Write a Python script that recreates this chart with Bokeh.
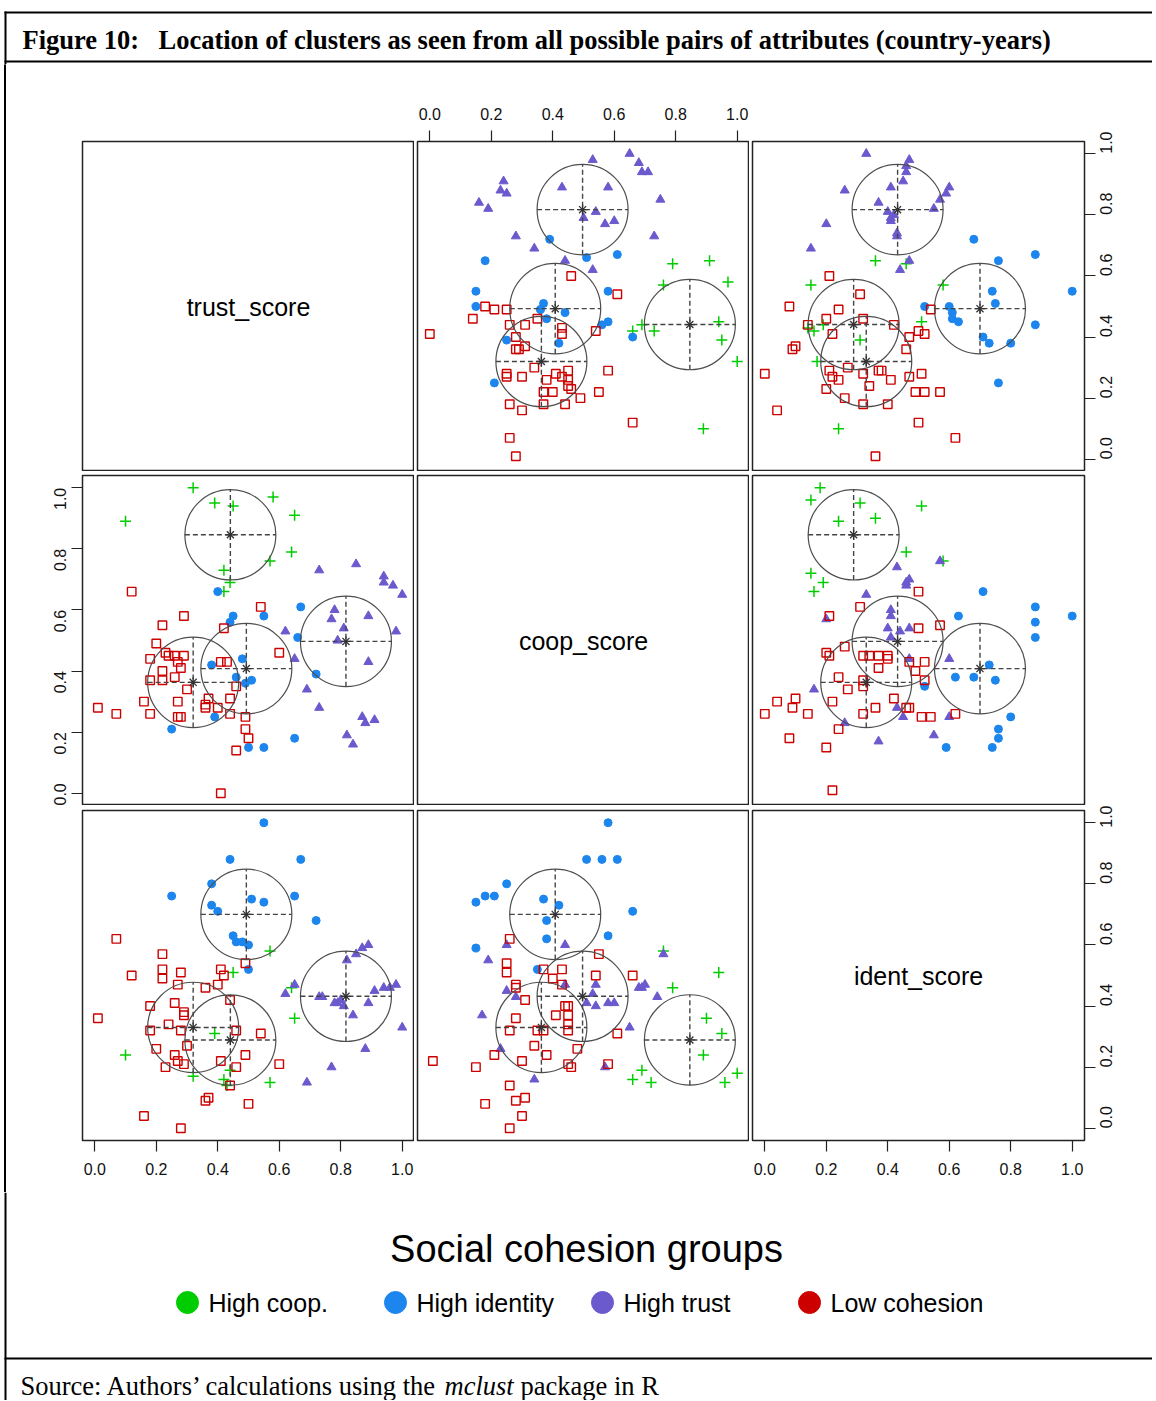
import math
from bokeh.plotting import figure
from bokeh.layouts import row, column
from bokeh.models import Range1d, FixedTicker, NumeralTickFormatter
from bokeh.core.properties import value
from bokeh.embed import file_html
from bokeh.resources import INLINE

# ------------------------------------------------------------------ data
var_labels = ["trust_score", "coop_score", "ident_score"]
var_keys = ["trust", "coop", "ident"]
groups = ["High coop.", "High identity", "High trust", "Low cohesion"]
tick_values = [0.0, 0.2, 0.4, 0.6, 0.8, 1.0]

# cluster means per group (same order as groups)
mean_trust = [0.441, 0.493, 0.817, 0.320]
mean_coop = [0.846, 0.408, 0.497, 0.363]
mean_ident = [0.289, 0.700, 0.432, 0.330]
cluster_sd = 0.148

# ---- coop_score (x) vs trust_score (y)
ct_coop_hc = [0.79, 0.91, 0.97, 0.76, 0.94, 0.69, 0.66, 0.73, 0.95, 1.00, 0.89]
ct_trust_hc = [0.64, 0.65, 0.58, 0.57, 0.45, 0.44, 0.42, 0.42, 0.39, 0.32, 0.10]
ct_coop_hi = [0.39, 0.51, 0.61, 0.18, 0.15, 0.15, 0.58, 0.37, 0.36, 0.44, 0.38, 0.58, 0.56, 0.66, 0.25, 0.42, 0.21]
ct_trust_hi = [0.72, 0.66, 0.67, 0.65, 0.55, 0.50, 0.55, 0.51, 0.49, 0.48, 0.46, 0.45, 0.44, 0.40, 0.39, 0.38, 0.25]
ct_coop_ht = [0.53, 0.65, 0.68, 0.69, 0.71, 0.24, 0.23, 0.25, 0.16, 0.19, 0.43, 0.58, 0.75, 0.54, 0.50, 0.57, 0.60, 0.28, 0.73, 0.34, 0.44, 0.53]
ct_trust_ht = [0.98, 1.00, 0.97, 0.94, 0.94, 0.91, 0.88, 0.87, 0.84, 0.82, 0.89, 0.89, 0.85, 0.81, 0.79, 0.77, 0.78, 0.73, 0.73, 0.69, 0.65, 0.62]
ct_coop_lc = [0.00, 0.14, 0.18, 0.21, 0.25, 0.46, 0.61, 0.26, 0.31, 0.35, 0.43, 0.43, 0.54, 0.28, 0.28, 0.29, 0.31, 0.25, 0.25, 0.30,
              0.34, 0.41, 0.45, 0.43, 0.45, 0.45, 0.46, 0.38, 0.40, 0.37, 0.49, 0.55, 0.58, 0.26, 0.30, 0.37, 0.44, 0.66, 0.26, 0.28]
ct_trust_lc = [0.41, 0.46, 0.50, 0.49, 0.49, 0.60, 0.54, 0.44, 0.44, 0.46, 0.43, 0.41, 0.42, 0.40, 0.36, 0.36, 0.37, 0.28, 0.27, 0.27,
               0.30, 0.28, 0.29, 0.27, 0.26, 0.24, 0.23, 0.26, 0.22, 0.22, 0.20, 0.22, 0.29, 0.18, 0.16, 0.18, 0.18, 0.12, 0.07, 0.01]

# ---- ident_score (x) vs trust_score (y)
it_ident_hc = [0.36, 0.46, 0.15, 0.58, 0.51, 0.19, 0.14, 0.16, 0.31, 0.17, 0.24]
it_trust_hc = [0.65, 0.64, 0.57, 0.57, 0.45, 0.44, 0.43, 0.42, 0.39, 0.32, 0.10]
it_ident_hi = [0.68, 0.88, 0.76, 1.00, 0.74, 0.75, 0.60, 0.52, 0.61, 0.61, 0.63, 0.88, 0.71, 0.73, 0.80, 0.76]
it_trust_hi = [0.72, 0.67, 0.65, 0.55, 0.55, 0.51, 0.50, 0.50, 0.48, 0.46, 0.45, 0.44, 0.40, 0.38, 0.38, 0.25]
it_ident_ht = [0.33, 0.47, 0.46, 0.46, 0.45, 0.41, 0.60, 0.59, 0.26, 0.37, 0.40, 0.41, 0.41, 0.55, 0.43, 0.20, 0.15, 0.47, 0.44, 0.57, 0.42, 0.43]
it_trust_ht = [1.00, 0.98, 0.96, 0.94, 0.91, 0.89, 0.89, 0.87, 0.88, 0.84, 0.81, 0.79, 0.78, 0.82, 0.73, 0.77, 0.69, 0.65, 0.62, 0.85, 0.80, 0.74]
it_ident_lc = [0.21, 0.08, 0.31, 0.24, 0.20, 0.32, 0.42, 0.14, 0.22, 0.47, 0.50, 0.52, 0.46, 0.10, 0.09, 0.27, 0.21, 0.22, 0.24, 0.32,
               0.37, 0.38, 0.41, 0.34, 0.20, 0.47, 0.51, 0.00, 0.26, 0.32, 0.40, 0.49, 0.52, 0.57, 0.04, 0.50, 0.62, 0.36, 0.54]
it_trust_lc = [0.60, 0.50, 0.54, 0.49, 0.46, 0.46, 0.44, 0.44, 0.41, 0.40, 0.42, 0.41, 0.36, 0.37, 0.36, 0.30, 0.29, 0.27, 0.26, 0.28,
               0.29, 0.29, 0.26, 0.24, 0.23, 0.27, 0.28, 0.28, 0.20, 0.18, 0.18, 0.22, 0.22, 0.22, 0.16, 0.12, 0.07, 0.01, 0.49]

# ---- ident_score (x) vs coop_score (y)
ic_ident_hc = [0.18, 0.15, 0.31, 0.51, 0.24, 0.36, 0.46, 0.58, 0.15, 0.19, 0.16]
ic_coop_hc = [1.00, 0.96, 0.95, 0.94, 0.89, 0.90, 0.79, 0.76, 0.72, 0.69, 0.66]
ic_ident_hi = [0.71, 0.88, 0.88, 1.00, 0.88, 0.63, 0.73, 0.62, 0.68, 0.75, 0.52, 0.80, 0.76, 0.76, 0.74, 0.59]
ic_coop_hi = [0.66, 0.61, 0.56, 0.58, 0.51, 0.58, 0.42, 0.38, 0.38, 0.37, 0.35, 0.25, 0.21, 0.18, 0.15, 0.15]
ic_ident_ht = [0.43, 0.46, 0.47, 0.46, 0.33, 0.57, 0.41, 0.41, 0.40, 0.44, 0.47, 0.41, 0.20, 0.47, 0.60, 0.16, 0.43, 0.45, 0.60, 0.26, 0.55, 0.37]
ic_coop_ht = [0.74, 0.69, 0.70, 0.68, 0.65, 0.76, 0.60, 0.58, 0.54, 0.53, 0.54, 0.51, 0.57, 0.44, 0.44, 0.34, 0.28, 0.25, 0.25, 0.23, 0.19, 0.17]
ic_ident_lc = [0.50, 0.31, 0.21, 0.57, 0.50, 0.20, 0.21, 0.26, 0.32, 0.34, 0.37, 0.40, 0.40, 0.47, 0.52, 0.37, 0.49, 0.24, 0.32, 0.32,
               0.27, 0.52, 0.10, 0.04, 0.09, 0.22, 0.36, 0.42, 0.46, 0.47, 0.32, 0.14, 0.00, 0.51, 0.54, 0.62, 0.24, 0.08, 0.20, 0.22]
ic_coop_lc = [0.66, 0.61, 0.58, 0.55, 0.54, 0.46, 0.45, 0.48, 0.45, 0.45, 0.45, 0.45, 0.44, 0.43, 0.43, 0.41, 0.40, 0.38, 0.37, 0.35,
              0.34, 0.37, 0.31, 0.30, 0.28, 0.30, 0.28, 0.31, 0.28, 0.28, 0.26, 0.26, 0.26, 0.25, 0.25, 0.26, 0.21, 0.18, 0.15, 0.01]

# ------------------------------------------------------------------ assemble
pair_data = {
    ("coop", "trust"): {"High coop.": (ct_coop_hc, ct_trust_hc), "High identity": (ct_coop_hi, ct_trust_hi),
                        "High trust": (ct_coop_ht, ct_trust_ht), "Low cohesion": (ct_coop_lc, ct_trust_lc)},
    ("ident", "trust"): {"High coop.": (it_ident_hc, it_trust_hc), "High identity": (it_ident_hi, it_trust_hi),
                         "High trust": (it_ident_ht, it_trust_ht), "Low cohesion": (it_ident_lc, it_trust_lc)},
    ("ident", "coop"): {"High coop.": (ic_ident_hc, ic_coop_hc), "High identity": (ic_ident_hi, ic_coop_hi),
                        "High trust": (ic_ident_ht, ic_coop_ht), "Low cohesion": (ic_ident_lc, ic_coop_lc)},
}
means = {"trust": mean_trust, "coop": mean_coop, "ident": mean_ident}


def get_pair(xv, yv):
    if (xv, yv) in pair_data:
        return pair_data[(xv, yv)]
    d = pair_data[(yv, xv)]
    return {g: (v[1], v[0]) for g, v in d.items()}


colors = {"High coop.": "#00CD00", "High identity": "#1C86EE", "High trust": "#6A5ACD", "Low cohesion": "#CD0000"}
marker_style = {
    "High coop.": dict(marker="cross", size=11, line_color="#00CD00", fill_color=None, line_width=1.5),
    "High identity": dict(marker="circle", size=8, line_color="#1C86EE", fill_color="#1C86EE", line_width=1),
    "High trust": dict(marker="triangle", size=9, line_color="#6A5ACD", fill_color="#6A5ACD", line_width=1),
    "Low cohesion": dict(marker="square", size=8.5, line_color="#CD0000", fill_color=None, line_width=1.4),
}

FW, FH = 332, 330
LB = 6                                   # width of the left border strip
col_border = [(76, 0), (3, 0), (3, 56)]
row_border = [(77, 0), (4, 0), (5, 52)]
axis_loc = {(0, 1): ("above", None), (0, 2): (None, "right"), (1, 0): (None, "left"),
            (2, 0): ("below", None), (2, 2): ("below", "right")}
TOTAL_W = 1152
ELL = "#4D4D4D"


def make_panel(i, j):
    xa, ya = axis_loc.get((i, j), (None, None))
    p = figure(frame_width=FW, frame_height=FH, x_range=Range1d(-0.04, 1.04), y_range=Range1d(-0.04, 1.04),
               x_axis_location=xa, y_axis_location=ya, toolbar_location=None, output_backend="svg",
               min_border_left=col_border[j][0], min_border_right=col_border[j][1],
               min_border_top=row_border[i][0], min_border_bottom=row_border[i][1],
               outline_line_color="#222222", outline_line_width=1.5,
               background_fill_color="white", border_fill_color="white")
    p.grid.visible = False
    for ax in p.axis:
        ax.ticker = FixedTicker(ticks=tick_values)
        ax.formatter = NumeralTickFormatter(format="0.0")
        ax.major_tick_out = 11
        ax.major_tick_in = 0
        ax.minor_tick_line_color = None
        ax.axis_line_color = None
        ax.major_tick_line_color = "#222222"
        ax.major_tick_line_width = 1.2
        ax.major_label_text_font = "Liberation Sans"
        ax.major_label_text_font_size = "16px"
        ax.major_label_text_color = "#111111"
        ax.major_label_standoff = 11
    for ax in p.yaxis:
        ax.major_label_orientation = math.pi / 2
    if i == j:
        p.text(x=[0.5], y=[0.5], text=[var_labels[i]], text_font=value("Liberation Sans"),
               text_font_size="25px", text_align="center", text_baseline="middle", text_color="black")
        return p
    xv, yv = var_keys[j], var_keys[i]
    data = get_pair(xv, yv)
    for g in groups:
        xs, ys = data[g]
        p.scatter(xs, ys, **marker_style[g])
    r = cluster_sd
    for k, g in enumerate(groups):
        cx, cy = means[xv][k], means[yv][k]
        p.ellipse(x=[cx], y=[cy], width=2 * r, height=2 * r, fill_color=None, line_color=ELL, line_width=1.2)
        p.segment(x0=[cx - r, cx], y0=[cy, cy - r], x1=[cx + r, cx], y1=[cy, cy + r],
                  line_color="#444444", line_width=1.4, line_dash="5 3")
        p.scatter([cx], [cy], marker="asterisk", size=10, line_color="#333333", line_width=1.3)
    return p


rows = []
for i in range(3):
    rows.append(row(*[make_panel(i, j) for j in range(3)]))
grid_h = sum(t + FH + b for t, b in row_border)

leftbar = figure(width=LB, height=grid_h, x_range=Range1d(0, LB), y_range=Range1d(0, 1), min_border=0,
                 toolbar_location=None, x_axis_location=None, y_axis_location=None, outline_line_color=None,
                 output_backend="svg", background_fill_color="white", border_fill_color="white")
leftbar.grid.visible = False
leftbar.quad(left=[4], right=[6], bottom=[0], top=[1], color="black")

# ---------------------------------------------------------------- header
HH = 64
hdr = figure(width=TOTAL_W, height=HH, x_range=Range1d(0, TOTAL_W), y_range=Range1d(HH, 0), min_border=0,
             toolbar_location=None, x_axis_location=None, y_axis_location=None, outline_line_color=None,
             output_backend="svg")
hdr.grid.visible = False
hdr.segment(x0=[4, 4, 5], y0=[12, 61, 11], x1=[TOTAL_W, TOTAL_W, 5], y1=[12, 61, HH],
            line_color="black", line_width=2)
serif = value("Liberation Serif")
hdr.text(x=[22], y=[39], text=["Figure 10:"], text_font=serif, text_font_style="bold",
         text_font_size="26.5px", text_baseline="middle", text_color="black")
hdr.text(x=[158], y=[39], text=["Location of clusters as seen from all possible pairs of attributes (country-years)"],
         text_font=serif, text_font_style="bold", text_font_size="26.5px", text_baseline="middle", text_color="black")

# ---------------------------------------------------------------- legend + footer
top0 = HH + grid_h                 # page y of footer top
FTH = 1400 - top0
ftr = figure(width=TOTAL_W, height=FTH, x_range=Range1d(0, TOTAL_W), y_range=Range1d(FTH, 0), min_border=0,
             toolbar_location=None, x_axis_location=None, y_axis_location=None, outline_line_color=None,
             output_backend="svg")
ftr.grid.visible = False
ftr.segment(x0=[5, 4], y0=[0, 1358 - top0], x1=[5, TOTAL_W], y1=[FTH, 1358 - top0], line_color="black", line_width=2)
sans = value("Liberation Sans")
ftr.text(x=[586], y=[1248 - top0], text=["Social cohesion groups"], text_font=sans, text_font_size="38px",
         text_align="center", text_baseline="middle", text_color="black")
leg_x = [187, 395, 602, 809]
for k, g in enumerate(groups):
    ftr.scatter([leg_x[k]], [1302 - top0], marker="circle", size=22, fill_color=colors[g], line_color=colors[g])
    ftr.text(x=[leg_x[k] + 21], y=[1302 - top0], text=[g], text_font=sans, text_font_size="25px",
             text_baseline="middle", text_color="black")
src_y = 1385 - top0
ftr.text(x=[20], y=[src_y], text=["Source: Authors\u2019 calculations using the"], text_font=serif,
         text_font_size="26.5px", text_baseline="middle", text_color="black")
ftr.text(x=[444], y=[src_y], text=["mclust"], text_font=serif, text_font_style="italic",
         text_font_size="26.5px", text_baseline="middle", text_color="black")
ftr.text(x=[520], y=[src_y], text=["package in R"], text_font=serif,
         text_font_size="26.5px", text_baseline="middle", text_color="black")

layout = column(hdr, row(leftbar, column(*rows)), ftr)
open("out.html", "w").write(file_html(layout, INLINE))
